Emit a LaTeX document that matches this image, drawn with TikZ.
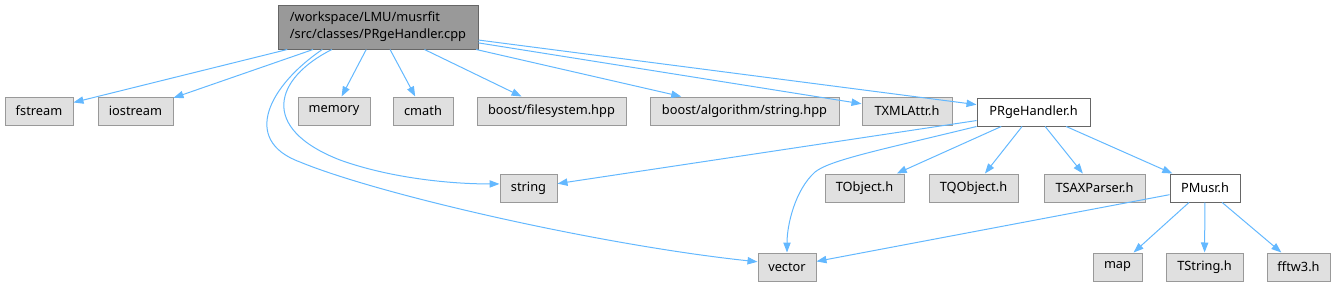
\documentclass[tikz,border=0pt]{standalone}
\usepackage{fontspec}
\setmainfont{Noto Sans}
\usetikzlibrary{arrows.meta}
\definecolor{EdgeBlue}{HTML}{63B8FF}
\definecolor{BoxGray}{HTML}{E0E0E0}
\definecolor{LineGray}{HTML}{999999}
\definecolor{DarkGray}{HTML}{666666}
\tikzset{
  gbox/.style={draw=LineGray,fill=BoxGray,minimum height=21pt,inner sep=0pt,
               font=\fontsize{9.6}{12}\selectfont,text centered,line width=0.75pt},
  wbox/.style={gbox,draw=DarkGray,fill=white},
  cbox/.style={draw=DarkGray,fill=LineGray,minimum width=150pt,minimum height=33pt,
               inner sep=0pt,align=left,font=\fontsize{9.6}{12.75}\selectfont,
               line width=0.75pt},
  arr/.style={-{Triangle[length=7.5pt,width=5.5pt]},EdgeBlue,line width=0.75pt},
}
\begin{document}
\begin{tikzpicture}[x=0.75pt,y=-0.75pt]
        \useasboundingbox (0,0) rectangle (1334,282);
        % file being documented
        \node[cbox] (root) at (378,27) {/workspace/LMU/musrfit\\/src/classes/PRgeHandler.cpp};
        % direct includes
        \node[gbox,minimum width=51pt] (fstream) at (39,111) {fstream};
        \node[gbox,minimum width=56.25pt] (iostream) at (135.5,111) {iostream};
        \node[gbox,minimum width=54pt] (memory) at (334,111) {memory};
        \node[gbox,minimum width=45pt] (cmath) at (423,111) {cmath};
        \node[gbox,minimum width=111.75pt] (bfs) at (551.5,111) {boost/filesystem.hpp};
        \node[gbox,minimum width=141.75pt] (balg) at (744.5,111) {boost/algorithm/string.hpp};
        \node[gbox,minimum width=67.5pt] (xmlattr) at (907,111) {TXMLAttr.h};
        \node[wbox,minimum width=84.75pt] (prh) at (1033.5,112) {PRgeHandler.h};
        % second level
        \node[gbox,minimum width=42.75pt] (string) at (528.5,188) {string};
        \node[gbox,minimum width=59.25pt] (tobj) at (864.5,188) {TObject.h};
        \node[gbox,minimum width=66.75pt] (tqobj) at (973.5,188) {TQObject.h};
        \node[gbox,minimum width=75.75pt] (tsax) at (1094.5,188) {TSAXParser.h};
        \node[wbox,minimum width=52.5pt] (pmusr) at (1205,188) {PMusr.h};
        % third level
        \node[gbox,minimum width=43.5pt] (vector) at (787,267) {vector};
        \node[gbox,minimum width=36.75pt] (map) at (1117.5,267) {map};
        \node[gbox,minimum width=57.75pt] (tstr) at (1204.5,267) {TString.h};
        \node[gbox,minimum width=47.25pt] (fftw) at (1298.5,267) {fftw3.h};
        % edges from the .cpp file
        \draw[arr] (root)--(fstream);
        \draw[arr] (root)--(iostream);
        \draw[arr] (root)--(memory);
        \draw[arr] (root)--(cmath);
        \draw[arr] (root)--(bfs);
        \draw[arr] (root)--(balg);
        \draw[arr] (root)--(xmlattr);
        \draw[arr] (root)--(prh);
        \draw[arr] (root.206) .. controls (275,78) and (258,128) .. (340,160)
                   .. controls (390,178) and (450,184) .. (string.172);
        \draw[arr] (root.202.5) .. controls (270,85) and (240,140) .. (300,162)
                   .. controls (380,195) and (600,245) .. (vector.170);
        % edges from PRgeHandler.h
        \draw[arr] (prh)--(string);
        \draw[arr] (prh.south west) .. controls (880,150) and (830,160) .. (815,172)
                   .. controls (795,190) and (787,225) .. (vector.north);
        \draw[arr] (prh)--(tobj);
        \draw[arr] (prh)--(tqobj);
        \draw[arr] (prh)--(tsax);
        \draw[arr] (prh)--(pmusr);
        % edges from PMusr.h
        \draw[arr] (pmusr)--(vector);
        \draw[arr] (pmusr)--(map);
        \draw[arr] (pmusr)--(tstr);
        \draw[arr] (pmusr)--(fftw);
      \end{tikzpicture}
\end{document}
